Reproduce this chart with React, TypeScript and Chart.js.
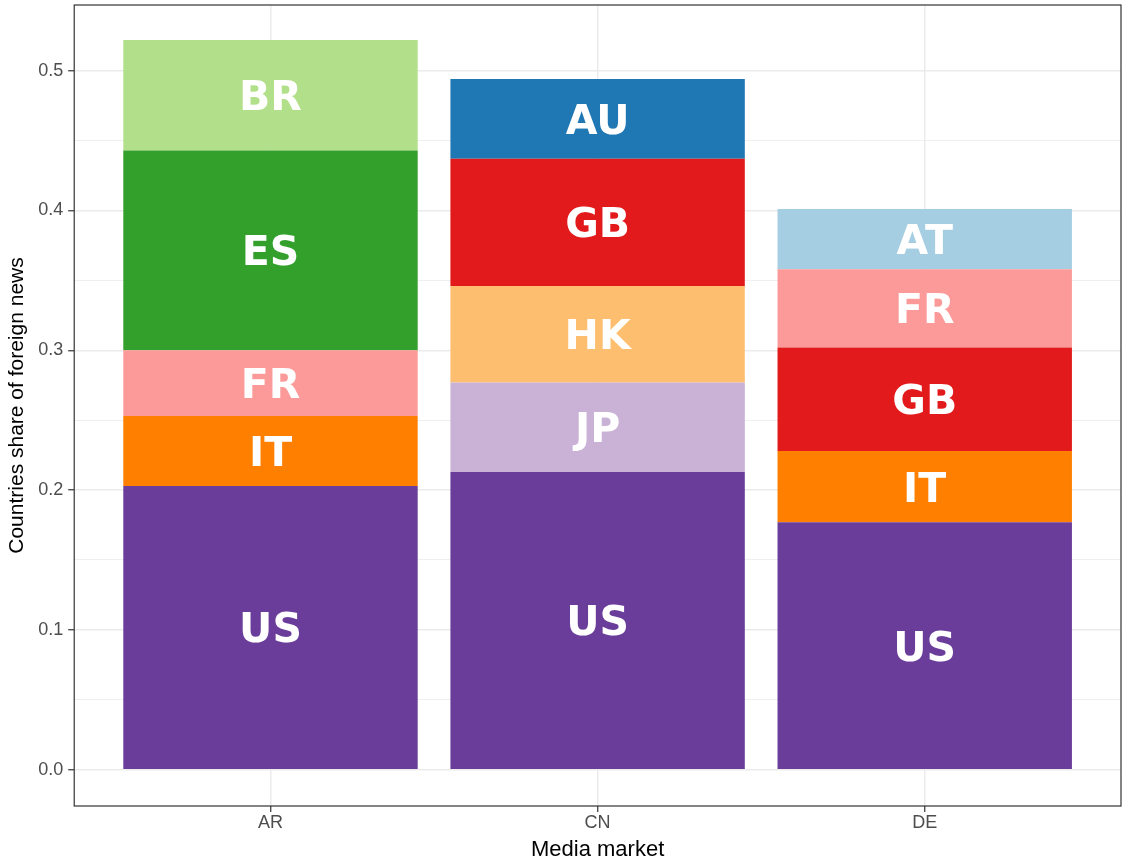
import React, { useEffect, useRef } from 'react';
import { Chart, registerables } from 'chart.js';

Chart.register(...registerables);

// Media markets (x categories)
const markets = ['AR', 'CN', 'DE'];

// Share of foreign news per country, per market [AR, CN, DE]; null = not shown
const US = [0.203, 0.213, 0.177];
const IT = [0.05, null, 0.051];
const JP = [null, 0.064, null];
const HK = [null, 0.069, null];
const GB = [null, 0.091, 0.074];
const FR = [0.047, null, 0.056];
const ES = [0.143, null, null];
const BR = [0.079, null, null];
const AU = [null, 0.057, null];
const AT = [null, null, 0.043];

// y-axis ticks (major labelled, minor unlabelled)
const yTickValues = [0, 0.05, 0.1, 0.15, 0.2, 0.25, 0.3, 0.35, 0.4, 0.45, 0.5];
const yMajorLabels = ['0.0', '0.1', '0.2', '0.3', '0.4', '0.5'];

const series: { name: string; values: (number | null)[]; color: string }[] = [
  { name: 'US', values: US, color: '#6A3D9A' },
  { name: 'IT', values: IT, color: '#FF7F00' },
  { name: 'JP', values: JP, color: '#CAB2D6' },
  { name: 'HK', values: HK, color: '#FDBF6F' },
  { name: 'GB', values: GB, color: '#E31A1C' },
  { name: 'FR', values: FR, color: '#FB9A99' },
  { name: 'ES', values: ES, color: '#33A02C' },
  { name: 'BR', values: BR, color: '#B2DF8A' },
  { name: 'AU', values: AU, color: '#1F78B4' },
  { name: 'AT', values: AT, color: '#A6CEE3' },
];

const segLabelPlugin = {
  id: 'segLabels',
  afterDatasetsDraw(chart: any) {
    const ctx = chart.ctx;
    const size = 41;
    ctx.save();
    ctx.fillStyle = '#FFFFFF';
    ctx.font = `bold ${size}px "DejaVu Sans"`;
    ctx.textAlign = 'center';
    ctx.textBaseline = 'alphabetic';
    chart.data.datasets.forEach((ds: any, i: number) => {
      const meta = chart.getDatasetMeta(i);
      meta.data.forEach((el: any) => {
        const p = el.getProps(['x', 'y', 'base'], true);
        const mid = (p.y + p.base) / 2;
        ctx.fillText(ds.label, p.x, mid + (size * 0.729) / 2);
      });
    });
    ctx.restore();
  },
};

const panelBorderPlugin = {
  id: 'panelBorder',
  afterDraw(chart: any) {
    const { ctx, chartArea } = chart;
    ctx.save();
    ctx.strokeStyle = '#333333';
    ctx.lineWidth = 1.2;
    ctx.strokeRect(chartArea.left, chartArea.top, chartArea.right - chartArea.left, chartArea.bottom - chartArea.top);
    ctx.restore();
  },
};

const isMajor = (v: number) => Math.abs(Math.round(v * 10) - v * 10) < 1e-6;

const noEdgePadding = (scale: any) => {
  scale.paddingTop = 0;
  scale.paddingBottom = 0;
  scale.paddingLeft = 0;
  scale.paddingRight = 0;
};

export default function App() {
  const ref = useRef<HTMLCanvasElement>(null);

  useEffect(() => {
    document.body.style.margin = '0';
    document.body.style.overflow = 'hidden';
    const canvas = ref.current!;
    const family = '"Liberation Sans", Arial, sans-serif';
    const chart = new Chart(canvas, {
      type: 'bar',
      data: {
        datasets: series.map((s) => ({
          label: s.name,
          data: s.values
            .map((v, i) => (v == null ? null : { x: i + 1, y: v }))
            .filter((d) => d !== null) as any,
          backgroundColor: s.color,
          borderWidth: 0,
          barPercentage: 0.9,
          categoryPercentage: 1,
          stack: 'share',
        })),
      },
      options: {
        animation: false,
        responsive: false,
        devicePixelRatio: 1,
        layout: { padding: { top: 5, right: 2, left: 3, bottom: 1 } },
        plugins: {
          legend: { display: false },
          tooltip: { enabled: false },
        },
        scales: {
          x: {
            type: 'linear',
            stacked: true,
            offset: false,
            min: 0.4,
            max: 3.6,
            afterBuildTicks: (scale: any) => {
              scale.ticks = markets.map((_, i) => ({ value: i + 1 }));
            },
            afterFit: noEdgePadding,
            ticks: {
              callback: (v: any) => markets[Math.round(v) - 1] ?? '',
              color: '#4D4D4D',
              font: { size: 18, family },
              padding: 0,
              maxRotation: 0,
              autoSkip: false,
            },
            grid: {
              offset: false,
              color: '#EBEBEB',
              lineWidth: 1.5,
              tickLength: 6,
              tickColor: '#333333',
              tickWidth: 1.2,
            },
            border: { display: false },
            title: {
              display: true,
              text: 'Media market',
              color: '#000000',
              font: { size: 22, family },
              padding: { top: 3, bottom: 0 },
            },
          },
          y: {
            type: 'linear',
            stacked: true,
            min: -0.026,
            max: 0.547,
            afterBuildTicks: (scale: any) => {
              scale.ticks = yTickValues.map((v) => ({ value: v }));
            },
            afterFit: noEdgePadding,
            ticks: {
              callback: (v: any) => (isMajor(v) ? yMajorLabels[Math.round(v * 10)] : ''),
              color: '#4D4D4D',
              font: { size: 18, family },
              padding: 5,
              autoSkip: false,
            },
            grid: {
              color: '#EBEBEB',
              lineWidth: (c: any) => (isMajor(c.tick.value) ? 1.5 : 0.8),
              tickLength: 6,
              tickColor: (c: any) => (isMajor(c.tick.value) ? '#333333' : 'rgba(0,0,0,0)'),
              tickWidth: 1.2,
            },
            border: { display: false },
            title: {
              display: true,
              text: 'Countries share of foreign news',
              color: '#000000',
              font: { size: 21, family },
              padding: { top: 2, bottom: 3 },
            },
          },
        },
      } as any,
      plugins: [segLabelPlugin, panelBorderPlugin],
    });
    return () => chart.destroy();
  }, []);

  return (
    <div style={{ width: 1123, height: 864, background: '#FFFFFF' }}>
      <canvas ref={ref} width={1123} height={864} style={{ display: 'block' }} />
    </div>
  );
}
